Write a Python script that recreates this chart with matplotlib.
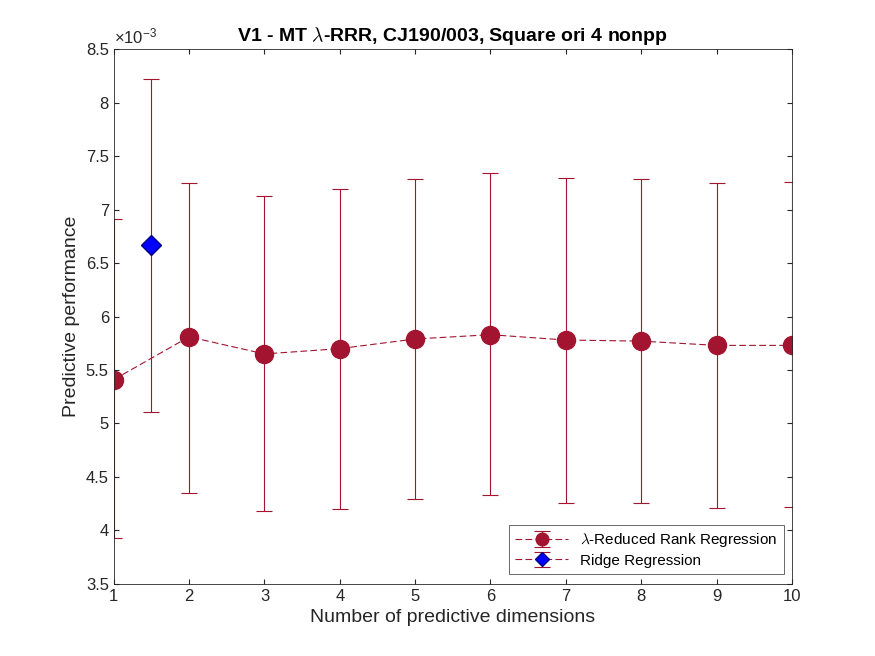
import matplotlib
matplotlib.use("Agg")
import matplotlib.pyplot as plt
import numpy as np

plt.rcParams['font.family'] = ['Liberation Sans', 'DejaVu Sans']
plt.rcParams['mathtext.fontset'] = 'cm'

dims = np.arange(1, 11)
rrr_mean = [5.41, 5.81, 5.65, 5.70, 5.79, 5.83, 5.78, 5.77, 5.73, 5.73]
rrr_top = [6.91, 7.25, 7.13, 7.19, 7.29, 7.34, 7.30, 7.29, 7.25, 7.26]
rrr_bot = [3.93, 4.35, 4.18, 4.20, 4.29, 4.33, 4.26, 4.26, 4.21, 4.22]
ridge_x = [1.5]
ridge_mean = [6.67]
ridge_top = [8.22]
ridge_bot = [5.11]

maroon = (0.635, 0.078, 0.184)

fig = plt.figure(figsize=(8.75, 6.56), dpi=100)
ax = fig.add_axes([0.13, 0.11, 0.775, 0.815])

rm = np.array(rrr_mean)
ax.errorbar(dims, rm, yerr=[rm - np.array(rrr_bot), np.array(rrr_top) - rm],
            color=maroon, ls=(0, (6, 3)), lw=0.8, marker='o', ms=13, mfc=maroon, mec=maroon,
            capsize=6, elinewidth=0.8, capthick=0.8,
            label=r'$\lambda$-Reduced Rank Regression')
gm = np.array(ridge_mean)
ax.errorbar(ridge_x, gm, yerr=[gm - np.array(ridge_bot), np.array(ridge_top) - gm],
            color=maroon, ls=(0, (6, 3)), lw=0.8, marker='D', ms=10, mfc='#0000ff', mec='#000080',
            capsize=6, elinewidth=0.8, capthick=0.8, label='Ridge Regression')

ax.set_xlim(1, 10)
ax.set_ylim(3.5, 8.5)
ax.set_xticks(dims)
ax.set_yticks(np.arange(3.5, 8.51, 0.5))
ax.set_yticklabels([f'{v:g}' for v in np.arange(3.5, 8.51, 0.5)])
ax.tick_params(direction='in', top=True, right=True, labelsize=12, colors='#262626')
for s in ax.spines.values():
    s.set_color('#262626')
    s.set_linewidth(0.6)
ax.set_xlabel('Number of predictive dimensions', fontsize=14, color='#262626')
ax.set_ylabel('Predictive performance', fontsize=14, color='#262626')
ax.set_title(r'V1 - MT $\lambda$-RRR, CJ190/003, Square ori 4 nonpp', fontsize=14, fontweight='bold')
ax.text(0.0, 1.005, r'$\mathregular{\times10^{-3}}$', transform=ax.transAxes, fontsize=12,
        va='bottom', ha='left', color='#262626')

leg = ax.legend(loc='lower right', fontsize=11, fancybox=False, edgecolor='#262626',
                bbox_to_anchor=(0.995, 0.01), borderaxespad=0.3, markerscale=0.7,
                handlelength=3.5, labelspacing=0.3)
leg.get_frame().set_linewidth(0.6)

fig.savefig('out.png', dpi=100)
